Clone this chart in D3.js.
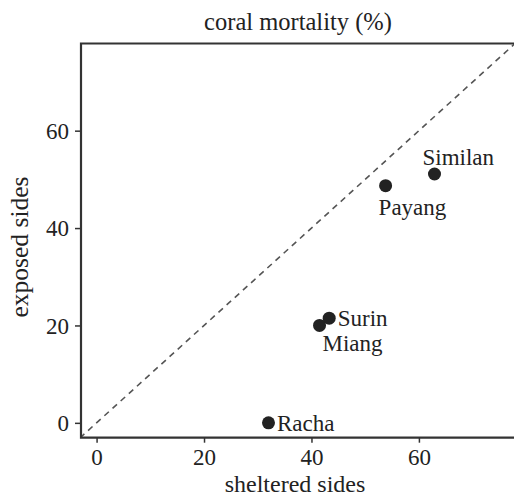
<!DOCTYPE html>
<html><head><meta charset="utf-8">
<script src="https://cdn.jsdelivr.net/npm/d3@7"></script>
<style>html,body{margin:0;padding:0;background:#fff;overflow:hidden}svg{display:block}</style>
</head><body>
<script>
const sites = ["Racha","Miang","Surin","Payang","Similan"];
const sheltered = [32, 41.5, 43.3, 53.8, 62.9];
const exposed = [0, 20, 21.5, 48.7, 51.1];
const xTicks = [0,20,40,60];
const yTicks = [0,20,40,60];
const labelPos = {Racha:"right", Miang:"below", Surin:"right", Payang:"below", Similan:"above"};

const W=514,H=497;
const svg=d3.select("body").append("svg").attr("width",W).attr("height",H);
const font="'Liberation Serif','Times New Roman',serif";
const x=d3.scaleLinear().domain([-2.9,77.7]).range([81,514]);
const y=d3.scaleLinear().domain([-3.05,77.9]).range([437.7,43.5]);
const ink="#222";

// diagonal
const clip=svg.append("clipPath").attr("id","c").append("rect")
  .attr("x",81).attr("y",43.5).attr("width",440).attr("height",437.7-43.5);
svg.append("line").attr("clip-path","url(#c)")
  .attr("x1",x(-3.1)).attr("y1",y(-3.1)).attr("x2",x(80)).attr("y2",y(80))
  .attr("stroke","#555").attr("stroke-width",1.6).attr("stroke-dasharray","6,5");

// axes
const xa=svg.append("g").attr("transform",`translate(0,437.7)`)
  .call(d3.axisBottom(x).tickValues(xTicks).tickSize(5).tickPadding(6).tickFormat(d3.format("d")));
const ya=svg.append("g").attr("transform",`translate(81,0)`)
  .call(d3.axisLeft(y).tickValues(yTicks).tickSize(6).tickPadding(6).tickFormat(d3.format("d")));
[xa,ya].forEach(g=>{
  g.select(".domain").remove();
  g.selectAll(".tick line").attr("stroke","#333").attr("stroke-width",1.5);
  g.selectAll(".tick text").attr("font-family",font).attr("font-size",23).attr("fill",ink);
});
xa.selectAll(".tick text").attr("dy",null).attr("y",0).attr("dominant-baseline","auto")
  .attr("transform","translate(0,27)");
ya.selectAll(".tick text").attr("dy","0.34em");

// frame
svg.append("path").attr("d",`M518,43.5H81V437.7H518`).attr("fill","none")
  .attr("stroke","#333").attr("stroke-width",2.2);

// points
const data=sites.map((s,i)=>({s,x:sheltered[i],y:exposed[i]}));
svg.selectAll("circle.pt").data(data).join("circle").attr("class","pt")
  .attr("cx",d=>x(d.x)).attr("cy",d=>y(d.y)).attr("r",6.5).attr("fill",ink);
svg.selectAll("text.lab").data(data).join("text").attr("class","lab")
  .attr("font-family",font).attr("font-size",23).attr("fill",ink)
  .attr("x",d=>{const p=labelPos[d.s];return x(d.x)+(p==="right"?8.5:p==="above"?-12:p==="below"?(d.s==="Miang"?3:-7):0);})
  .attr("y",d=>{const p=labelPos[d.s];return y(d.y)+(p==="right"?8:p==="above"?-9:p==="below"?(d.s==="Miang"?26:29):0);})
  .text(d=>d.s);

// titles
svg.append("text").attr("x",298).attr("y",30).attr("text-anchor","middle")
  .attr("font-family",font).attr("font-size",24.5).attr("fill",ink).text("coral mortality (%)");
svg.append("text").attr("x",295).attr("y",492).attr("text-anchor","middle")
  .attr("font-family",font).attr("font-size",24).attr("fill",ink).text("sheltered sides");
svg.append("text").attr("transform","translate(28,247) rotate(-90)").attr("text-anchor","middle")
  .attr("font-family",font).attr("font-size",25.5).attr("fill",ink).text("exposed sides");
</script>
</body></html>
